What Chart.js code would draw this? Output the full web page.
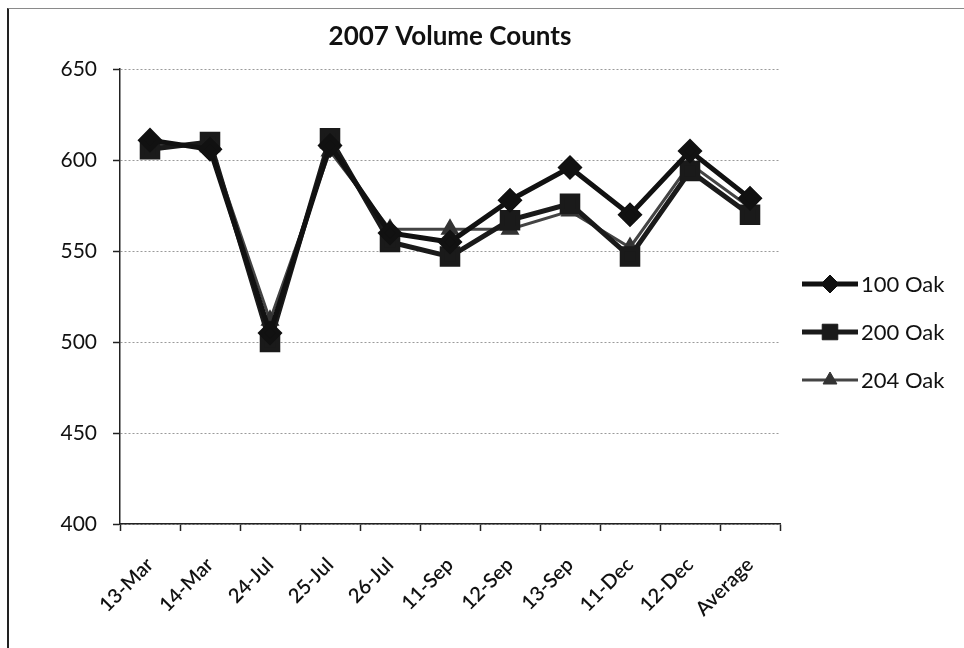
<!DOCTYPE html>
<html>
<head>
<meta charset="utf-8">
<script src="https://cdn.jsdelivr.net/npm/chart.js@4/dist/chart.umd.min.js"></script>
<style>
  html, body { margin: 0; padding: 0; background: #fff; }
  #wrap { position: relative; width: 964px; height: 648px; overflow: hidden; }
  #frame { position: absolute; left: 7px; top: 8px; width: 970px; height: 660px;
           border-left: 2px solid #222; border-top: 1px solid #8a8a8a; pointer-events: none; }
  canvas { position: absolute; left: 0; top: 0; }
</style>
</head>
<body>
<div id="wrap">
  <canvas id="c" width="964" height="648"></canvas>
  <div id="frame"></div>
</div>
<script>
const categories = ['13-Mar', '14-Mar', '24-Jul', '25-Jul', '26-Jul', '11-Sep', '12-Sep', '13-Sep', '11-Dec', '12-Dec', 'Average'];
const oak100 = [611, 606, 505, 608, 560, 555, 578, 596, 570, 605, 579];
const oak200 = [606, 610, 500, 612, 555, 547, 567, 576, 547, 594, 570];
const oak204 = [608, 608, 512, 605, 562, 562, 562, 572, 552, 598, 574];
const seriesNames = ['100 Oak', '200 Oak', '204 Oak'];
const yTicks = [400, 450, 500, 550, 600, 650];

const FONT = 'Lato, "Open Sans", sans-serif';

const legendPlugin = {
  id: 'sideLegend',
  afterDraw(chart) {
    const ctx = chart.ctx;
    ctx.save();
    chart.data.datasets.forEach((ds, i) => {
      const y = 284 + i * 48;
      ctx.strokeStyle = ds.borderColor;
      ctx.lineWidth = ds.borderWidth;
      ctx.beginPath();
      ctx.moveTo(802, y);
      ctx.lineTo(858, y);
      ctx.stroke();
      ctx.fillStyle = ds.pointBackgroundColor;
      ctx.strokeStyle = ds.pointBorderColor;
      ctx.lineWidth = 1;
      Chart.helpers.drawPoint(ctx, { pointStyle: ds.pointStyle, radius: ds.pointRadius, rotation: 0, borderWidth: 1 }, 830, y);
      ctx.fillStyle = '#111';
      ctx.font = '22px ' + FONT;
      ctx.textBaseline = 'middle';
      ctx.textAlign = 'left';
      ctx.fillText(ds.label, 861, y + 1);
    });
    ctx.restore();
  }
};

new Chart(document.getElementById('c'), {
  type: 'line',
  data: {
    labels: categories,
    datasets: [
      { label: seriesNames[0], data: oak100, borderColor: '#111', backgroundColor: '#111',
        borderWidth: 5, pointStyle: 'rectRot', pointRadius: 9, pointBackgroundColor: '#111', pointBorderColor: '#111', tension: 0 },
      { label: seriesNames[1], data: oak200, borderColor: '#1a1a1a', backgroundColor: '#1a1a1a',
        borderWidth: 5, pointStyle: 'rect', pointRadius: 11, pointBackgroundColor: '#1a1a1a', pointBorderColor: '#1a1a1a', tension: 0 },
      { label: seriesNames[2], data: oak204, borderColor: '#444', backgroundColor: '#444',
        borderWidth: 3, pointStyle: 'triangle', pointRadius: 8, pointBackgroundColor: '#333', pointBorderColor: '#333', tension: 0 }
    ]
  },
  options: {
    responsive: false,
    animation: false,
    layout: { padding: { left: 0, right: 184, top: 0, bottom: 0 } },
    plugins: {
      legend: { display: false },
      tooltip: { enabled: false },
      title: {
        display: true, fullSize: false,
        text: '2007 Volume Counts',
        color: '#111',
        font: { family: FONT, size: 26, weight: 'bold' },
        padding: { top: 21, bottom: 17 }
      }
    },
    scales: {
      x: {
        offset: true,
        grid: { display: true, drawOnChartArea: false, drawTicks: true, offset: true,
                tickLength: 7, tickColor: '#222', tickWidth: 1.5 },
        border: { display: true, color: '#222', width: 1.5 },
        ticks: { color: '#111', font: { family: FONT, size: 20, weight: '600' }, maxRotation: 45, minRotation: 45, padding: 22, autoSkip: false },
        afterFit(s) { s.height = 124; }
      },
      y: {
        min: 400, max: 650,
        afterBuildTicks(s) { s.ticks = yTicks.map(v => ({ value: v })); },
        grid: { color: '#9a9a9a', lineWidth: 1, drawTicks: true, tickLength: 7, tickColor: '#222', tickWidth: 1.5 },
        border: { display: true, color: '#222', width: 1.5, dash: [2, 2] },
        ticks: { color: '#111', font: { family: FONT, size: 21 }, padding: 16 },
        afterFit(s) { s.width = 120; }
      }
    }
  },
  plugins: [legendPlugin]
});
</script>
</body>
</html>
